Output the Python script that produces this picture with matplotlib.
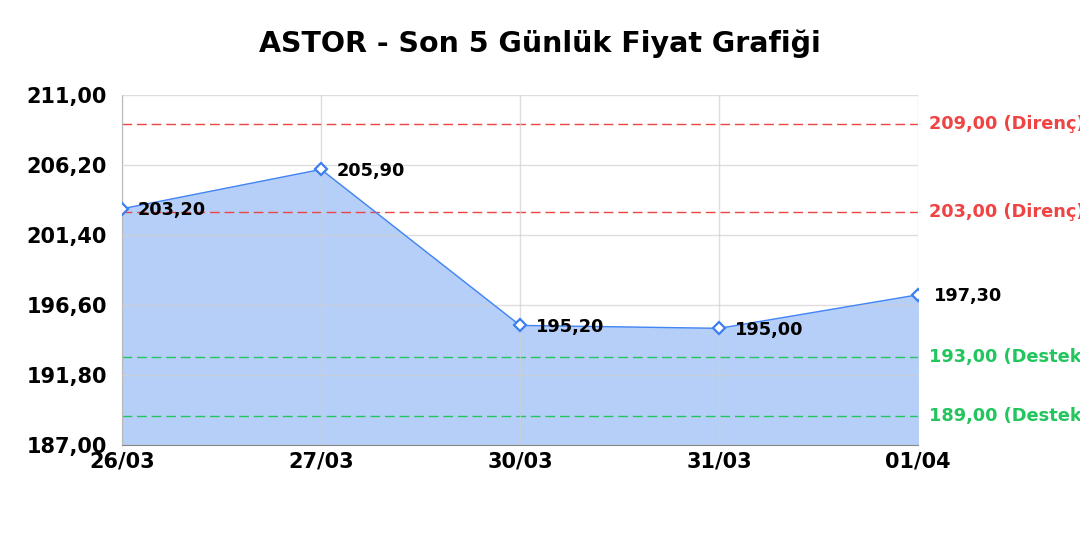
import matplotlib
matplotlib.use("Agg")
from matplotlib import pyplot as plt

plt.rcParams["font.family"] = ["DejaVu Sans"]

# veriler
dates = ["26/03", "27/03", "30/03", "31/03", "01/04"]
prices = [203.20, 205.90, 195.20, 195.00, 197.30]
resistance = [209.00, 203.00]
support = [193.00, 189.00]
y_ticks = [187.00, 191.80, 196.60, 201.40, 206.20, 211.00]


def tr(v):
    # Türkçe ondalık ayırıcı
    return f"{v:.2f}".replace(".", ",")


fig = plt.figure(figsize=(10.8, 5.4), dpi=100)
ax = fig.add_axes([0.113, 0.176, 0.737, 0.648])

x = list(range(len(dates)))

ax.fill_between(x, prices, y_ticks[0], color="#b6cff8", zorder=1)
ax.plot(x, prices, color="#4285f4", linewidth=1, zorder=3)
ax.plot(x, prices, linestyle="none", marker="D", markersize=6,
        markerfacecolor="white", markeredgecolor="#3b7ff0", markeredgewidth=1.6, zorder=4)

for xi, p in zip(x, prices):
    ax.annotate(tr(p), (xi, p), xytext=(11.5, -1), textcoords="offset points",
                ha="left", va="center", fontsize=12.8, fontweight="bold", zorder=5)

# direnç ve destek çizgileri
for r in resistance:
    ax.axhline(r, color="#ef4444", linestyle=(0, (7, 3.5)), linewidth=1, zorder=2)
    ax.text(1.014, r, tr(r) + " (Direnç)", transform=ax.get_yaxis_transform(),
            color="#ef4444", fontsize=12.8, fontweight="bold", va="center", clip_on=False)
for s in support:
    ax.axhline(s, color="#22c55e", linestyle=(0, (7, 3.5)), linewidth=1, zorder=2)
    ax.text(1.014, s, tr(s) + " (Destek)", transform=ax.get_yaxis_transform(),
            color="#22c55e", fontsize=12.8, fontweight="bold", va="center", clip_on=False)

ax.set_xlim(0, len(dates) - 1)
ax.set_ylim(y_ticks[0], y_ticks[-1])
ax.set_xticks(x)
ax.set_xticklabels(dates)
ax.set_yticks(y_ticks)
ax.set_yticklabels([tr(v) for v in y_ticks])
ax.tick_params(length=0, labelsize=15)
ax.tick_params(axis="y", pad=11)
ax.tick_params(axis="x", pad=5)
for lbl in ax.get_xticklabels() + ax.get_yticklabels():
    lbl.set_fontweight("bold")

ax.grid(True, color="#d0d0d0", alpha=0.7, linewidth=1, zorder=1.5)
ax.set_axisbelow(False)
for side in ["top", "right"]:
    ax.spines[side].set_visible(False)
ax.spines["left"].set_color("#888888")
ax.spines["bottom"].set_color("#888888")

fig.suptitle("ASTOR - Son 5 Günlük Fiyat Grafiği", fontsize=20.5, fontweight="bold", y=0.945)

fig.savefig("out.png", dpi=100)
